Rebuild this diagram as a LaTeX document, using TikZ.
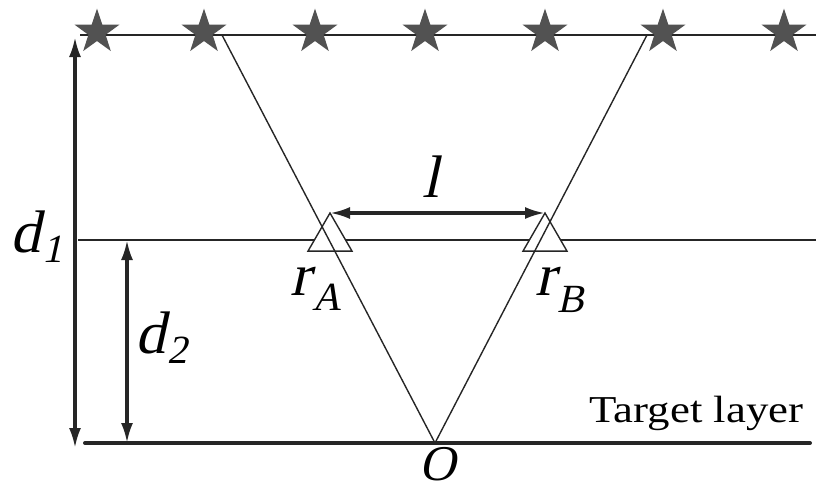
\documentclass[tikz,border=0pt]{standalone}
\usepackage{fontspec}
\setmainfont{Liberation Serif}
\newfontfamily\slserif[FakeSlant=0.22]{Liberation Serif}
\usetikzlibrary{arrows.meta,shapes.geometric}
\newcommand{\isym}[1]{{\slserif #1}}
\newcommand{\isub}[3][5pt]{\isym{#2}\kern1pt\raisebox{-#1}{\fontsize{20}{20}\selectfont\isym{#3}}}
\begin{document}
\begin{tikzpicture}[x=0.5pt,y=-0.5pt,>={Latex[length=10pt,width=6pt]},
  thinline/.style={black!85,line width=0.7pt},
  dimarrow/.style={<->,black!85,line width=1.6pt},
  starmark/.style={star,star points=5,star point ratio=2.6,minimum size=23.5pt,inner sep=0pt,fill=black!68},
  receiver/.style={regular polygon,regular polygon sides=3,minimum size=25.4pt,inner sep=0pt,outer sep=0pt,draw=black!85,line width=0.7pt,fill=white},
  bigsym/.style={font=\fontsize{30}{30}\selectfont,inner sep=0pt}]
\useasboundingbox (0,0) rectangle (816,489);
% surface, receiver level and target layer
\draw[thinline] (80,35)--(816,35);
\draw[thinline] (78,240)--(816,240);
\draw[black!85,line width=2pt,line cap=round] (85,443)--(810,443);
\coordinate (O) at (435,443);
\coordinate (srcL) at (222,35);
\coordinate (srcR) at (647,35);
% receivers
\node[receiver] (rA) at (330,238.4) {};
\node[receiver] (rB) at (545,238.4) {};
% ray paths
\draw[thinline] (srcL)--(O)--(srcR);
% sources
\foreach \sx [count=\i] in {97,204,315,425,545,663,784}
  \node[starmark] (s\i) at (\sx,32) {};
% distances
\draw[dimarrow] (rA.corner 1)--(rB.corner 1);
\coordinate (d1top) at (75,37);
\coordinate (d1bot) at (75,448);
\draw[dimarrow] (d1top)--(d1bot);
\coordinate (d2top) at (127,240);
\coordinate (d2bot) at (127,443);
\draw[dimarrow] (d2top)--(d2bot);
% labels
\node[bigsym,anchor=base] (lablL) at (431,197) {\isym{l}};
\node[bigsym,anchor=base west] (labd1) at (10,252) {\isub{d}{1}};
\node[bigsym,anchor=base west] (labd2) at (135,353) {\isub{d}{2}};
\node[bigsym,anchor=base west] (labrA) at (290,295) {\isub[7.5pt]{r}{A}};
\node[bigsym,anchor=base west] (labrB) at (535,295) {\isub[8.5pt]{r}{B}};
\node[font=\fontsize{25}{25}\selectfont,inner sep=0pt,anchor=base] (labO) at (438,480) {\isym{O}};
\node[font=\fontsize{19}{19}\selectfont,inner sep=0pt,anchor=base west] (target) at (589,422) {\scalebox{1.18}[1]{Target layer}};
\end{tikzpicture}
\end{document}
